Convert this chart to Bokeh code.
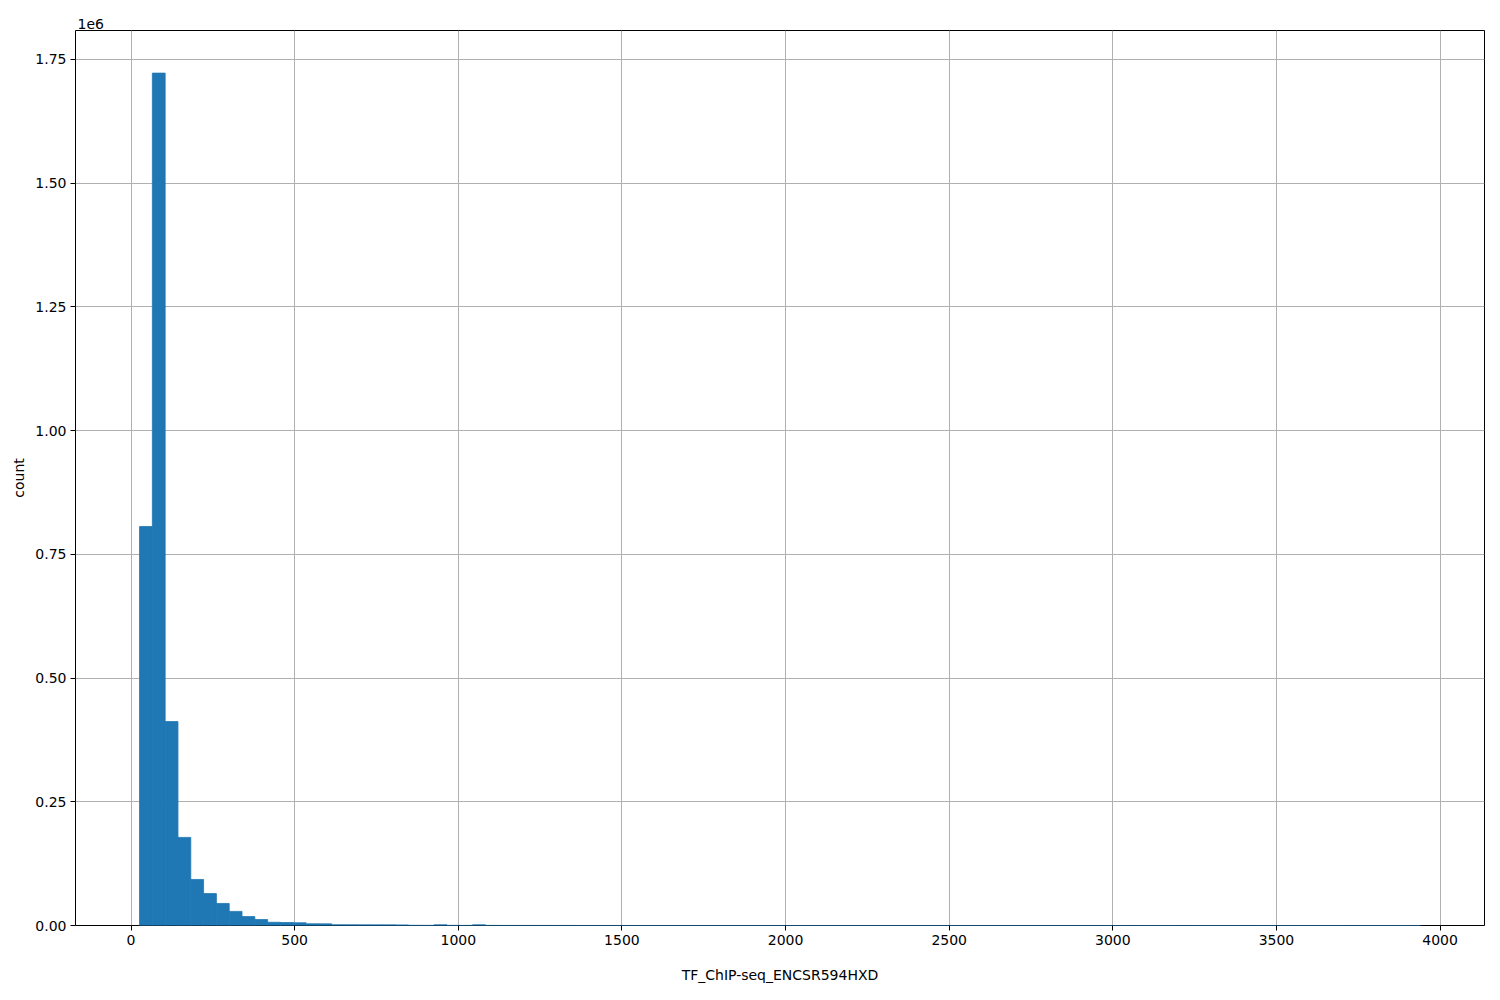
import numpy as np
from bokeh.plotting import figure
from bokeh.models import ColumnDataSource, Range1d, FixedTicker, CustomJSTickFormatter
from bokeh.embed import file_html
from bokeh.resources import INLINE

# Histogram data
bin_start = 26.0
bin_stop = 3940.0
n_bins = 100
counts = [
    806000, 1722000, 412000, 178000, 93000, 64500, 44500, 28500, 18000, 12000,
    6500, 6000, 5500, 3500, 3300, 1600, 1500, 1400, 1300, 1300,
    1200, 400, 300, 1500, 300, 200, 1500, 200, 150, 120,
    100, 90, 80, 70, 60, 50, 40, 40, 30, 30,
    20, 20, 20, 10, 10, 10, 10, 5, 5, 5,
    5, 5, 3, 3, 3, 3, 2, 2, 2, 2,
    2, 1, 1, 1, 1, 1, 1, 1, 1, 1,
    1, 1, 1, 1, 1, 0, 0, 1, 0, 0,
    0, 1, 0, 0, 0, 0, 1, 0, 0, 0,
    0, 0, 0, 0, 1, 0, 0, 0, 0, 1,
]
x_ticks = [0, 500, 1000, 1500, 2000, 2500, 3000, 3500, 4000]
y_ticks = [0, 250000, 500000, 750000, 1000000, 1250000, 1500000, 1750000]
x_label = "TF_ChIP-seq_ENCSR594HXD"
y_label = "count"
scale_text = "1e6"

edges = np.linspace(bin_start, bin_stop, n_bins + 1)
src = ColumnDataSource(dict(left=edges[:-1], right=edges[1:], top=counts, bottom=[0] * n_bins))

span = bin_stop - bin_start
x0 = bin_start - 0.05 * span
x1 = bin_stop + 0.05 * span
ymax = max(counts) * 1.05

FONT = "DejaVu Sans"
FS = "14px"

W, H = 1490, 990
p = figure(width=W, height=H, output_backend="svg", toolbar_location=None,
           x_range=Range1d(x0, x1), y_range=Range1d(0, ymax),
           min_border_left=75, min_border_right=W - 1484, min_border_top=30,
           min_border_bottom=H - 925)
p.quad(left="left", right="right", top="top", bottom="bottom", source=src,
       fill_color="#1f77b4", line_color="#1f77b4", line_width=0.8)

p.outline_line_color = "black"
p.outline_line_width = 1
p.background_fill_color = "white"
p.border_fill_color = "white"

p.title.text = scale_text
p.title.align = "left"
p.title.text_font = FONT
p.title.text_font_size = FS
p.title.text_font_style = "normal"
p.title.text_color = "black"
p.title.standoff = 4
p.title.offset = 2

for g in (p.xgrid, p.ygrid):
    g.grid_line_color = "#b0b0b0"
    g.grid_line_width = 1

p.xaxis.ticker = FixedTicker(ticks=x_ticks)
p.yaxis.ticker = FixedTicker(ticks=y_ticks)
p.xgrid.ticker = FixedTicker(ticks=x_ticks)
p.ygrid.ticker = FixedTicker(ticks=y_ticks)
p.yaxis.formatter = CustomJSTickFormatter(code="return (tick/1e6).toFixed(2);")

for ax in (p.xaxis, p.yaxis):
    ax.axis_line_color = None
    ax.major_tick_line_color = "black"
    ax.major_tick_in = 0
    ax.major_tick_out = 5
    ax.minor_tick_line_color = None
    ax.major_label_text_font = FONT
    ax.major_label_text_font_size = FS
    ax.major_label_text_color = "black"
    ax.axis_label_text_font = FONT
    ax.axis_label_text_font_size = FS
    ax.axis_label_text_font_style = "normal"
    ax.axis_label_text_color = "black"
    ax.major_label_standoff = 4

p.xaxis.axis_label = x_label
p.yaxis.axis_label = y_label
p.xaxis.axis_label_standoff = 19
p.yaxis.axis_label_standoff = 5

open("out.html", "w").write(file_html(p, INLINE))
